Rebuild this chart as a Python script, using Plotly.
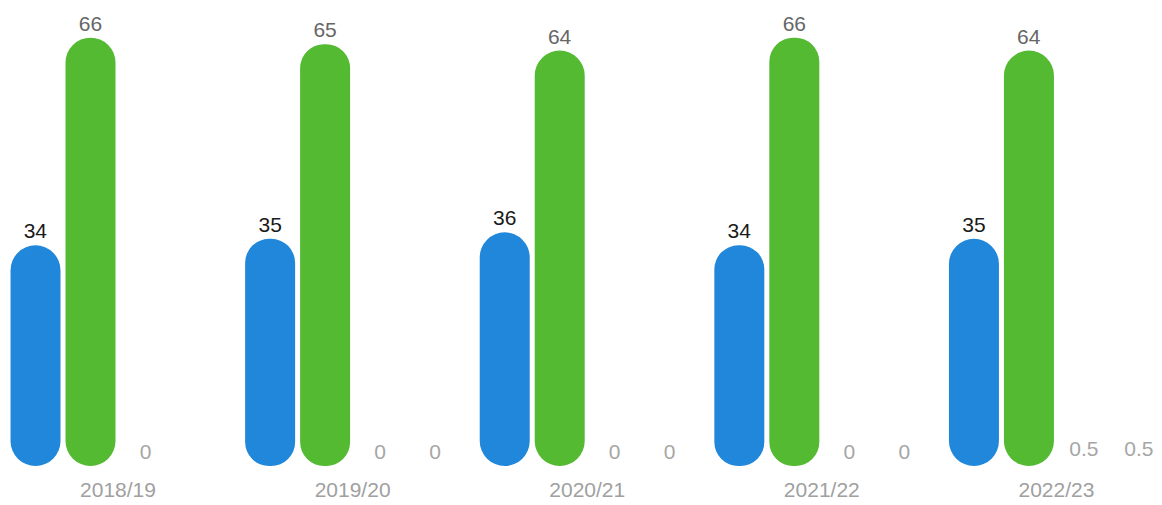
import plotly.graph_objects as go

# Categories and series values
years = ["2018/19", "2019/20", "2020/21", "2021/22", "2022/23"]
series_a = [34, 35, 36, 34, 35]
series_b = [66, 65, 64, 66, 64]
series_c = [0, 0, 0, 0, 0.5]
series_d = [None, 0, 0, 0, 0.5]

series = [
    ("Series A", series_a, "#2187DA", "#1a1a1a"),
    ("Series B", series_b, "#53BA32", "#666666"),
    ("Series C", series_c, "rgba(255,255,255,0)", "#a6a6a6"),
    ("Series D", series_d, "rgba(255,255,255,0)", "#a6a6a6"),
]

FONT = "Liberation Sans, Arial, Helvetica, sans-serif"
x_idx = list(range(len(years)))
PITCH = 0.2344  # slot width per series, in category units
WIDTH = 0.2131  # drawn bar width, in category units

fig = go.Figure()
for k, (name, vals, color, tcolor) in enumerate(series):
    off = (k - 1.5) * PITCH - WIDTH / 2
    # an explicit base makes plotly round both ends -> pill-shaped bars
    fig.add_trace(go.Bar(
        x=x_idx, y=vals, base=[0] * len(vals),
        offset=off, width=WIDTH,
        marker=dict(color=color, cornerradius="50%", line_width=0),
        text=["" if v is None else f"{v:g}" for v in vals],
        textposition="outside", cliponaxis=False,
        textfont=dict(family=FONT, size=21, color=tcolor),
        name=name, showlegend=False,
    ))

fig.update_layout(
    barmode="overlay",
    width=1162, height=505,
    margin=dict(l=0, r=0, t=0, b=39),
    paper_bgcolor="white", plot_bgcolor="white",
    font=dict(family=FONT),
    xaxis=dict(
        range=[-0.503, 4.45], tickvals=x_idx, ticktext=years,
        showgrid=False, zeroline=False, showline=False, ticks="",
        tickfont=dict(family=FONT, size=21, color="#a0a0a0"),
        ticklabelstandoff=9,
    ),
    yaxis=dict(range=[0, 71.8], visible=False, showgrid=False, zeroline=False),
)

fig.write_html("out.html")
